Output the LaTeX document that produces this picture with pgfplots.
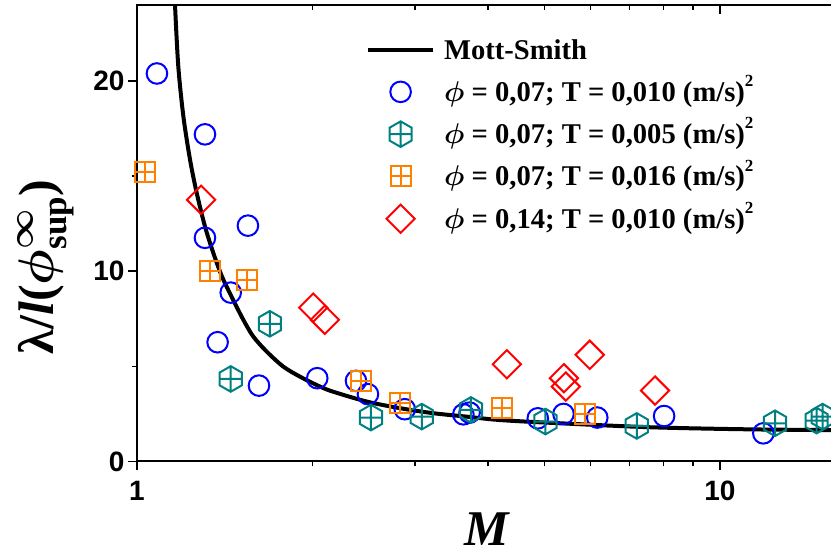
\RequirePackage{fix-cm}
\documentclass[border=0pt]{standalone}
\usepackage{amsmath}
\usepackage{fontspec}
\setmainfont{Liberation Serif}
\setsansfont{Liberation Sans}
\usepackage{pgfplots}
\pgfplotsset{compat=1.18}
\definecolor{cblue}{RGB}{0,0,255}
\definecolor{cteal}{RGB}{0,128,128}
\definecolor{corange}{RGB}{255,128,0}
\definecolor{cred}{RGB}{255,0,0}
\pgfdeclareplotmark{boxplus}{%
  \pgfpathrectangle{\pgfqpoint{-\pgfplotmarksize}{-\pgfplotmarksize}}{\pgfqpoint{2\pgfplotmarksize}{2\pgfplotmarksize}}%
  \pgfpathmoveto{\pgfqpoint{-\pgfplotmarksize}{0pt}}\pgfpathlineto{\pgfqpoint{\pgfplotmarksize}{0pt}}%
  \pgfpathmoveto{\pgfqpoint{0pt}{-\pgfplotmarksize}}\pgfpathlineto{\pgfqpoint{0pt}{\pgfplotmarksize}}%
  \pgfusepathqstroke}
\pgfdeclareplotmark{hexplus}{%
  \pgfpathmoveto{\pgfqpoint{0pt}{\pgfplotmarksize}}%
  \pgfpathlineto{\pgfqpoint{0.866\pgfplotmarksize}{0.5\pgfplotmarksize}}%
  \pgfpathlineto{\pgfqpoint{0.866\pgfplotmarksize}{-0.5\pgfplotmarksize}}%
  \pgfpathlineto{\pgfqpoint{0pt}{-\pgfplotmarksize}}%
  \pgfpathlineto{\pgfqpoint{-0.866\pgfplotmarksize}{-0.5\pgfplotmarksize}}%
  \pgfpathlineto{\pgfqpoint{-0.866\pgfplotmarksize}{0.5\pgfplotmarksize}}%
  \pgfpathclose
  \pgfpathmoveto{\pgfqpoint{0pt}{\pgfplotmarksize}}\pgfpathlineto{\pgfqpoint{0pt}{-\pgfplotmarksize}}%
  \pgfpathmoveto{\pgfqpoint{-0.866\pgfplotmarksize}{0pt}}\pgfpathlineto{\pgfqpoint{0.866\pgfplotmarksize}{0pt}}%
  \pgfusepathqstroke}
\pgfdeclareplotmark{rdiamond}{%
  \pgfpathmoveto{\pgfqpoint{0pt}{1.414\pgfplotmarksize}}%
  \pgfpathlineto{\pgfqpoint{1.414\pgfplotmarksize}{0pt}}%
  \pgfpathlineto{\pgfqpoint{0pt}{-1.414\pgfplotmarksize}}%
  \pgfpathlineto{\pgfqpoint{-1.414\pgfplotmarksize}{0pt}}%
  \pgfpathclose
  \pgfusepathqstroke}
\newcommand{\sq}{\raisebox{0.52em}{\fontsize{17}{17}\selectfont 2}}
\begin{document}
\begin{tikzpicture}
\useasboundingbox (0,0) rectangle (831pt,554pt);
\begin{axis}[
  at={(137pt,92.5pt)}, anchor=south west,
  scale only axis, width=700pt, height=456.5pt,
  xmode=log, xmin=1, xmax=15.88, ymin=0, ymax=24,
  clip=false,
  axis line style={line width=2pt},
  tick align=outside, xtick pos=left, ytick pos=left,
  major tick length=9pt, minor tick length=5pt,
  every tick/.style={black, line width=1.6pt},
  xtick={1,10}, xticklabels={1,10},
  ytick={0,10,20}, minor ytick={5,15},
  /pgf/number format/assume math mode=true,
  ticklabel style={font=\sffamily\bfseries\fontsize{28}{28}\selectfont},
  xticklabel style={yshift=-7pt},
  xlabel={\textbf{\textit{M}}},
  xlabel style={font=\fontsize{50}{50}\selectfont, inner sep=0pt, at={(axis description cs:0.5,-0.183)}, anchor=base},
  ylabel={\bfseries λ/\textit{l}($\boldsymbol{\phi}^{\boldsymbol{\infty}}_{\mathbf{sup}}$)},
  ylabel style={font=\fontsize{50}{50}\selectfont, inner sep=0pt, at={(axis description cs:-0.1186,0.426)}, anchor=base, rotate=0},
  legend cell align=left,
  legend image code/.code={\draw[mark repeat=2,mark phase=2,#1] plot coordinates {(0pt,0pt) (32.5pt,0pt) (65pt,0pt)};},
  legend style={draw=none, fill=none, font=\fontsize{28.6}{30}\selectfont\bfseries,
    at={(axis description cs:0.327,0.939)}, anchor=north west, inner sep=0pt,
    row sep=9.3pt, column sep=9pt,
    nodes={inner sep=0pt, text height=26pt, text depth=7pt}},
]
\addplot[black, line width=4pt, smooth, tension=0.5] coordinates {
(1.162,24.0) (1.177,20.8) (1.201,18.15) (1.233,15.87) (1.266,14.12) (1.308,12.36)
(1.352,10.96) (1.40,9.7) (1.462,8.5) (1.522,7.45) (1.583,6.57) (1.669,5.78)
(1.782,4.99) (1.904,4.46) (2.06,3.94) (2.17,3.67) (2.479,3.15) (2.83,2.8)
(3.22,2.54) (3.67,2.36) (4.19,2.18) (5.15,2.03) (7.6,1.8) (11.26,1.69) (15.9,1.65)};
\addlegendentry{Mott-Smith}
\addplot[only marks, mark=o, mark size=10.3pt, cblue, line width=2pt] coordinates {
(1.082,20.4) (1.308,17.2) (1.308,11.76) (1.550,12.4) (1.448,8.88) (1.375,6.27)
(1.619,3.99) (2.038,4.38) (2.375,4.24) (2.49,3.54) (2.88,2.75) (3.63,2.48) (3.72,2.57)
(4.87,2.27) (5.39,2.5) (6.16,2.31) (8.02,2.39) (11.87,1.48)};
\addlegendentry{$\boldsymbol{\phi}$ = 0,07; T = 0,010 (m/s)\sq}
\addplot[only marks, mark=hexplus, mark size=12.8pt, cteal, line width=2pt] coordinates {
(1.69,7.24) (1.448,4.34) (2.52,2.31) (3.08,2.36) (3.74,2.71) (5.02,2.1) (7.2,1.87)
(12.43,2.01) (14.65,2.15) (15.0,2.36)};
\addlegendentry{$\boldsymbol{\phi}$ = 0,07; T = 0,005 (m/s)\sq}
\addplot[only marks, mark=boxplus, mark size=10pt, corange, line width=2pt] coordinates {
(1.032,15.2) (1.334,10.04) (1.546,9.52) (2.42,4.24) (2.83,3.06) (4.22,2.8) (5.87,2.5)};
\addlegendentry{$\boldsymbol{\phi}$ = 0,07; T = 0,016 (m/s)\sq}
\addplot[only marks, mark=rdiamond, mark size=10pt, cred, line width=2pt] coordinates {
(1.288,13.76) (2.006,8.09) (2.10,7.45) (4.31,5.11) (5.40,4.38) (5.44,3.94) (5.98,5.61) (7.74,3.73)};
\addlegendentry{$\boldsymbol{\phi}$ = 0,14; T = 0,010 (m/s)\sq}
\end{axis}
\begin{axis}[
  at={(137pt,92.5pt)}, anchor=south west,
  scale only axis, width=700pt, height=456.5pt,
  xmode=log, xmin=1, xmax=15.88, ymin=0, ymax=24,
  axis x line*=top, axis y line=none,
  axis line style={line width=2pt},
  tick align=inside, major tick length=9pt, minor tick length=5pt,
  every tick/.style={black, line width=1.6pt},
  xtick={1,10}, xticklabels={,},
]
\end{axis}
\end{tikzpicture}
\end{document}
